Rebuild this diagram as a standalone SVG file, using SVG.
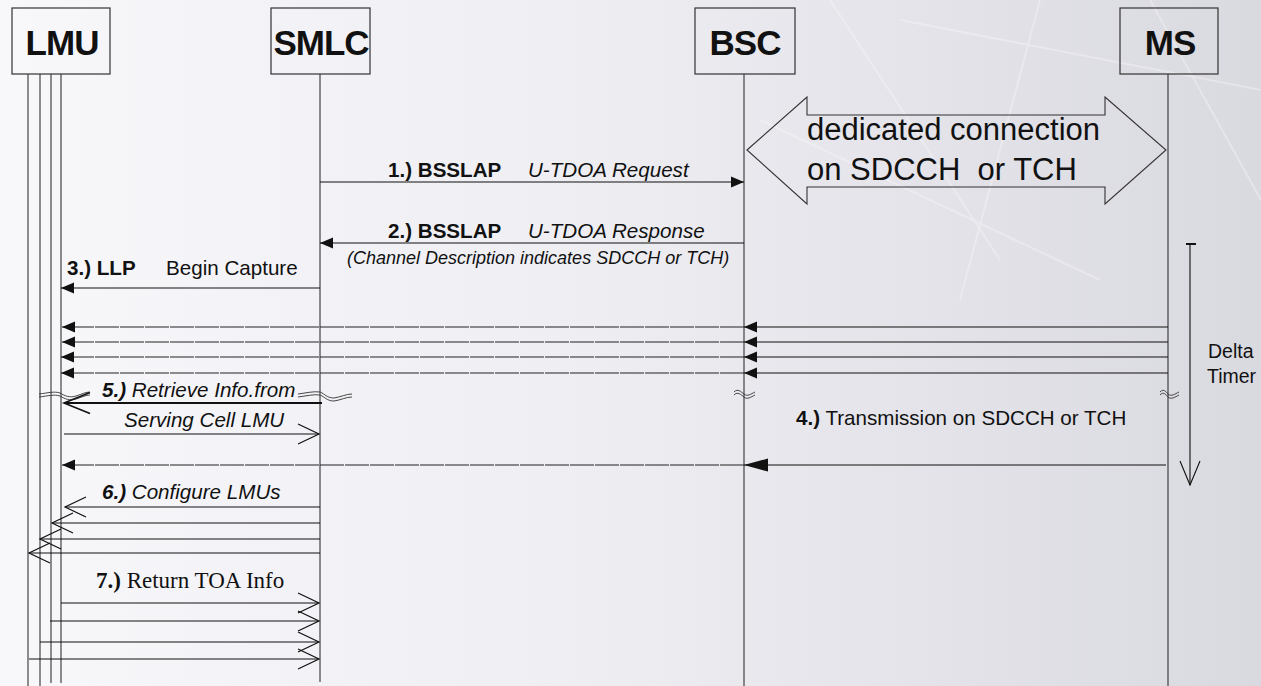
<svg xmlns="http://www.w3.org/2000/svg" width="1261" height="686" viewBox="0 0 1261 686">
<defs>
<linearGradient id="bg" x1="0" y1="0" x2="1" y2="0">
<stop offset="0" stop-color="#f8f8fb"/>
<stop offset="0.45" stop-color="#eeeef3"/>
<stop offset="1" stop-color="#d9d9e0"/>
</linearGradient>
<marker id="fa" markerUnits="userSpaceOnUse" markerWidth="14" markerHeight="11" refX="13" refY="5.5" orient="auto" overflow="visible">
<path d="M0,0 L13,5.5 L0,11 z" fill="#111"/>
</marker>
<marker id="fa2" markerUnits="userSpaceOnUse" markerWidth="25" markerHeight="13" refX="24" refY="6.5" orient="auto" overflow="visible">
<path d="M0,0 L24,6.5 L0,13 z" fill="#111"/>
</marker>
<marker id="oa" markerUnits="userSpaceOnUse" markerWidth="22" markerHeight="22" refX="21" refY="10" orient="auto" overflow="visible">
<path d="M0,0 L21,10 L0,20" fill="none" stroke="#111" stroke-width="1.2"/>
</marker>
<marker id="oa5" markerUnits="userSpaceOnUse" markerWidth="27" markerHeight="22" refX="26" refY="10.5" orient="auto" overflow="visible">
<path d="M0,0 L26,10.5 L0,21" fill="none" stroke="#111" stroke-width="1.6"/>
</marker>
</defs>
<style>
.box{fill:none;stroke:#333;stroke-width:1.2}
.life{stroke:#333;stroke-width:1.1;fill:none}
.hdr{font-family:"Liberation Sans",Arial,sans-serif;font-weight:bold;font-size:35px;fill:#111;text-anchor:middle;letter-spacing:-1px}
.msg{stroke:#111;stroke-width:1.1;fill:none}
.dsh{stroke:#222;stroke-width:1.1;fill:none;stroke-dasharray:24 1}
.lbl{font-family:"Liberation Sans",Arial,sans-serif;font-size:20.6px;fill:#111}
.b{font-weight:bold}
.i{font-style:italic}
.tnr{font-family:"Liberation Serif","Times New Roman",serif;font-size:23px;fill:#111}
.brk{fill:none;stroke:#333;stroke-width:0.9}
</style>
<rect x="0" y="0" width="1261" height="686" fill="url(#bg)"/>
<g opacity="0.3" stroke="#ffffff" fill="none" stroke-width="2">
<path d="M830,0 L1000,260"/>
<path d="M900,20 L1261,90"/>
<path d="M1040,0 L960,300"/>
<path d="M1150,0 L1261,200"/>
<path d="M760,120 L1100,280"/>
</g>

<g id="LMU">
<rect class="box" x="12" y="8" width="98" height="66"/>
<text class="hdr" x="62" y="55">LMU</text>
<line class="life" x1="28" y1="74" x2="28" y2="686"/>
<line class="life" x1="40" y1="74" x2="40" y2="686"/>
<line class="life" x1="51" y1="74" x2="51" y2="683"/>
<line class="life" x1="61" y1="74" x2="61" y2="683"/>
</g>
<g id="SMLC">
<rect class="box" x="271" y="8" width="99" height="66"/>
<text class="hdr" x="321" y="55">SMLC</text>
<line class="life" x1="320" y1="74" x2="320" y2="682"/>
</g>
<g id="BSC">
<rect class="box" x="695" y="8" width="100" height="66"/>
<text class="hdr" x="745" y="55">BSC</text>
<line class="life" x1="744" y1="74" x2="744" y2="686"/>
</g>
<g id="MS">
<rect class="box" x="1120" y="8" width="98" height="66"/>
<text class="hdr" x="1170" y="55">MS</text>
<line class="life" x1="1168" y1="74" x2="1168" y2="686"/>
</g>

<g id="dedicated">
<polygon points="747,150 807,97 807,115 1105,115 1105,97 1166,150 1105,204 1105,187 807,187 807,204" fill="none" stroke="#333" stroke-width="1.1"/>
<text class="lbl" x="807" y="140" style="font-size:31px">dedicated connection</text>
<text class="lbl" x="807" y="180" style="font-size:31px" xml:space="preserve">on SDCCH  or TCH</text>
</g>

<g id="connectors">
<line class="msg" x1="320" y1="182" x2="744" y2="182" marker-end="url(#fa)"/>
<line class="msg" x1="744" y1="243" x2="320" y2="243" marker-end="url(#fa)"/>
<line class="msg" x1="320" y1="288" x2="61" y2="288" marker-end="url(#fa)"/>
<line class="msg" x1="1168" y1="327" x2="744" y2="327" marker-end="url(#fa)"/>
<line class="dsh" x1="744" y1="327" x2="62" y2="327" marker-end="url(#fa)"/>
<line class="msg" x1="1168" y1="342" x2="744" y2="342" marker-end="url(#fa)"/>
<line class="dsh" x1="744" y1="342" x2="62" y2="342" marker-end="url(#fa)"/>
<line class="msg" x1="1168" y1="357" x2="744" y2="357" marker-end="url(#fa)"/>
<line class="dsh" x1="744" y1="357" x2="61" y2="357" marker-end="url(#fa)"/>
<line class="msg" x1="1168" y1="373" x2="744" y2="373" marker-end="url(#fa)"/>
<line class="dsh" x1="744" y1="373" x2="61" y2="373" marker-end="url(#fa)"/>
<path class="brk" d="M39,394 C48,393 54,391 60,393 C65,396 70,398 76,396 C82,394 86,392 90,392"/>
<path class="brk" d="M39,397 C48,396 54,394 60,396 C65,399 70,401 76,399 C82,397 86,395 90,395"/>
<path class="brk" d="M298,394 C306,393 314,391 320,392 C325,394 327,398 334,398 C341,397 346,394 352,394"/>
<path class="brk" d="M298,397 C306,396 314,394 320,395 C325,397 327,401 334,401 C341,400 346,397 352,397"/>
<path class="brk" d="M734,392 C738,388 741,392 744,394 C747,397 751,394 755,392"/>
<path class="brk" d="M734,395 C738,391 741,395 744,397 C747,400 751,397 755,395"/>
<path class="brk" d="M1160,392 C1164,388 1166,392 1168,394 C1171,397 1175,394 1179,392"/>
<path class="brk" d="M1160,395 C1164,391 1166,395 1168,397 C1171,400 1175,397 1179,395"/>
<line x1="322" y1="403" x2="64" y2="403" stroke="#111" stroke-width="1.8" marker-end="url(#oa5)"/>
<line class="msg" x1="64" y1="434" x2="319" y2="434" marker-end="url(#oa)"/>
<line class="msg" x1="1166" y1="465" x2="744" y2="465" marker-end="url(#fa2)"/>
<line class="dsh" x1="744" y1="465" x2="62" y2="465" marker-end="url(#fa)"/>
<line x1="1186" y1="244" x2="1196" y2="244" stroke="#111" stroke-width="2"/>
<line class="msg" x1="1190" y1="244" x2="1190" y2="485"/>
<path d="M1180,461 L1190,485 L1200,461" fill="none" stroke="#111" stroke-width="1.1"/>
<line class="msg" x1="320" y1="507" x2="65" y2="507" marker-end="url(#oa)"/>
<line class="msg" x1="320" y1="523" x2="52" y2="523" marker-end="url(#oa)"/>
<line class="msg" x1="320" y1="539" x2="40" y2="539" marker-end="url(#oa)"/>
<line class="msg" x1="320" y1="553" x2="29" y2="553" marker-end="url(#oa)"/>
<line class="msg" x1="61" y1="603" x2="319" y2="603" marker-end="url(#oa)"/>
<line class="msg" x1="50" y1="621" x2="319" y2="621" marker-end="url(#oa)"/>
<line class="msg" x1="40" y1="642" x2="319" y2="642" marker-end="url(#oa)"/>
<line class="msg" x1="29" y1="659" x2="319" y2="659" marker-end="url(#oa)"/>
</g>

<g id="labels">
<text class="lbl b" x="388" y="177">1.) BSSLAP</text>
<text class="lbl i" x="528" y="177">U-TDOA Request</text>
<text class="lbl b" x="388" y="238">2.) BSSLAP</text>
<text class="lbl i" x="528" y="238">U-TDOA Response</text>
<text class="lbl i" x="347" y="264" style="font-size:18px">(Channel Description indicates SDCCH or TCH)</text>
<text class="lbl b" x="67" y="275">3.) LLP</text>
<text class="lbl" x="166" y="275">Begin Capture</text>
<text class="lbl i" x="102" y="397"><tspan class="b">5.)</tspan> Retrieve Info.from</text>
<text class="lbl i" x="124" y="427">Serving Cell LMU</text>
<text class="lbl" x="796" y="425"><tspan class="b">4.)</tspan> Transmission on SDCCH or TCH</text>
<text class="lbl" x="1208" y="358" style="font-size:19.5px">Delta</text>
<text class="lbl" x="1207" y="383" style="font-size:19.5px">Timer</text>
<text class="lbl i" x="102" y="499"><tspan class="b">6.)</tspan> Configure LMUs</text>
<text class="tnr" x="96" y="588"><tspan font-weight="bold">7.)</tspan> Return TOA Info</text>
</g>
</svg>
